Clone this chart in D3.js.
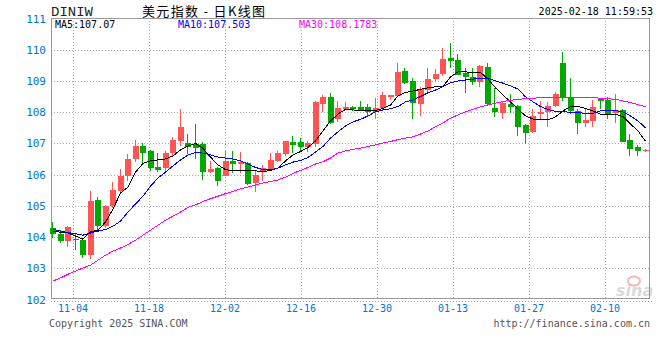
<!DOCTYPE html>
<html><head><meta charset="utf-8">
<script src="https://cdn.jsdelivr.net/npm/d3@7/dist/d3.min.js"></script>
<style>body{margin:0;background:#fff}svg{display:block}</style>
</head><body>
<svg id="c" width="660" height="360"></svg>
<script>
const dates = ["10-30","10-31","11-01","11-04","11-05","11-06","11-07","11-08","11-11","11-12","11-13","11-14","11-15","11-18","11-19","11-20","11-21","11-22","11-25","11-26","11-27","11-28","11-29","12-02","12-03","12-04","12-05","12-06","12-09","12-10","12-11","12-12","12-13","12-16","12-17","12-18","12-19","12-20","12-23","12-24","12-25","12-26","12-27","12-30","12-31","01-01","01-02","01-03","01-06","01-07","01-08","01-09","01-10","01-13","01-14","01-15","01-16","01-17","01-20","01-21","01-22","01-23","01-24","01-27","01-28","01-29","01-30","01-31","02-03","02-04","02-05","02-06","02-07","02-10","02-11","02-12","02-13","02-14","02-17","02-18"];
const open = [104.29,104.10,103.88,103.95,103.91,103.41,105.20,104.34,105.01,105.46,
105.95,106.49,106.91,106.75,106.24,106.21,106.68,107.07,107.01,106.97,
106.97,106.08,106.20,105.97,106.45,106.35,106.38,105.74,106.11,106.14,
106.43,106.67,107.04,107.05,106.89,106.99,108.25,108.49,107.79,108.10,
108.15,108.15,108.15,107.99,108.12,108.50,108.52,109.32,109.00,108.26,
108.70,109.05,109.22,109.73,109.68,109.25,109.14,108.97,109.45,108.12,
107.96,108.25,108.20,107.58,107.36,107.95,107.99,108.20,109.57,108.49,
108.04,107.64,107.72,108.42,108.39,107.96,108.06,107.10,106.88,106.76];
const high = [104.47,104.21,104.37,104.13,103.95,105.46,105.27,105.04,105.76,106.19,
106.65,107.11,107.02,106.78,106.68,106.75,107.19,108.09,107.29,107.61,
107.05,106.43,106.25,106.75,106.75,106.72,106.40,106.10,106.32,106.70,
106.75,107.09,107.23,107.17,107.08,108.37,108.55,108.60,108.36,108.33,
108.20,108.36,108.25,108.44,108.65,108.56,109.57,109.40,109.10,108.80,
109.43,109.38,110.05,110.23,109.86,109.43,109.43,109.52,109.56,108.78,
108.31,108.57,108.22,107.62,108.09,108.36,108.31,108.63,109.92,109.08,
108.10,108.12,108.38,108.44,108.50,108.58,108.10,107.30,106.94,106.83];
const low = [103.97,103.81,103.67,103.57,103.34,103.30,104.15,104.30,104.94,105.44,
105.79,106.40,106.35,106.11,106.08,106.08,106.60,106.91,106.65,106.49,
105.84,106.05,105.63,105.95,106.06,106.05,105.68,105.43,105.79,106.10,
106.40,106.60,106.70,106.72,106.72,106.90,107.99,107.62,107.67,108.06,
108.04,108.04,107.88,107.77,108.08,108.40,108.48,108.90,107.77,107.88,
108.60,109.00,109.15,109.43,109.18,108.61,108.88,108.82,108.20,107.86,
107.77,107.97,107.23,106.98,107.33,107.75,107.52,108.15,108.36,107.93,
107.29,107.54,107.52,108.10,107.77,107.64,107.05,106.59,106.59,106.72];
const close = [104.10,103.88,104.33,103.89,103.41,105.17,104.34,104.98,105.52,105.97,
106.51,106.91,106.68,106.20,106.14,106.68,107.11,107.54,106.89,106.86,
106.08,106.19,105.79,106.43,106.35,106.41,105.71,106.00,106.22,106.46,
106.70,107.07,106.95,106.88,107.02,108.33,108.49,107.64,108.12,108.17,
108.09,108.07,108.01,108.12,108.54,108.54,109.29,108.93,108.30,108.75,
109.06,109.23,109.70,109.63,109.20,109.13,108.97,109.49,108.25,108.00,
108.29,108.15,107.52,107.34,107.88,108.00,108.20,108.57,108.44,108.04,
107.64,107.74,108.15,108.36,107.93,108.06,107.05,106.83,106.75,106.78];
const ma5 = [104.17,104.16,104.13,104.03,103.93,104.17,104.22,104.48,104.90,105.41,
105.60,106.08,106.36,106.44,106.47,106.50,106.60,106.79,106.92,107.00,
106.84,106.56,106.31,106.16,106.12,106.12,106.12,106.12,106.10,106.13,
106.21,106.44,106.63,106.74,106.87,107.08,107.40,107.72,107.94,108.09,
108.07,108.06,108.05,108.06,108.12,108.23,108.52,108.63,108.68,108.73,
108.78,108.81,108.82,109.13,109.29,109.29,109.27,109.27,109.06,108.78,
108.55,108.33,108.10,107.88,107.78,107.75,107.75,107.85,108.04,108.18,
108.18,108.12,108.04,107.94,107.94,107.94,107.86,107.62,107.40,107.07];
const ma10 = [104.25,104.19,104.14,104.11,104.06,104.13,104.19,104.24,104.35,104.51,
104.80,105.06,105.31,105.63,105.89,106.08,106.28,106.47,106.63,106.71,
106.69,106.63,106.56,106.53,106.50,106.44,106.34,106.23,106.16,106.15,
106.21,106.31,106.40,106.45,106.55,106.72,106.90,107.17,107.37,107.56,
107.69,107.77,107.88,108.01,108.07,108.11,108.18,108.33,108.39,108.50,
108.62,108.71,108.82,108.94,109.00,109.03,109.06,109.08,109.08,109.00,
108.93,108.84,108.74,108.49,108.33,108.18,108.09,108.02,108.01,108.00,
107.99,107.96,107.96,108.04,108.05,108.05,108.01,107.88,107.72,107.50];
const ma30 = [102.59,102.69,102.81,102.91,103.01,103.10,103.26,103.42,103.55,103.65,
103.76,103.90,104.06,104.22,104.38,104.54,104.67,104.80,104.95,105.03,
105.14,105.23,105.31,105.39,105.46,105.54,105.60,105.67,105.73,105.78,
105.83,105.92,106.04,106.13,106.23,106.34,106.41,106.53,106.69,106.76,
106.81,106.85,106.90,106.95,107.01,107.06,107.12,107.17,107.21,107.30,
107.40,107.53,107.65,107.81,107.91,108.01,108.09,108.17,108.23,108.29,
108.34,108.38,108.41,108.43,108.45,108.46,108.46,108.47,108.48,108.48,
108.48,108.47,108.46,108.45,108.43,108.41,108.36,108.31,108.24,108.18];
const yTicks = [102,103,104,105,106,107,108,109,110,111];
const xTickLabels = ["11-04","11-18","12-02","12-16","12-30","01-13","01-27","02-10"];
const maLabels = ["MA5:107.07","MA10:107.503","MA30:108.1783"];
const maColors = ["#000000","#0000ff","#ff00ff"];
const symbol = "DINIW";
const title = "美元指数 - 日K线图";
const stamp = "2025-02-18 11:59:53";
const footLeft = "Copyright 2025 SINA.COM";
const footRight = "http://finance.sina.com.cn";

const svg = d3.select("#c");
const L = 51, R = 649, T = 18, B = 298;
const x = d3.scaleLinear().domain([0, dates.length - 1]).range([53, 645.5]);
const xt = d3.scalePoint().domain(xTickLabels).range([72.5, 604.5]);
const y = d3.scaleLinear().domain([102, 111]).range([299.5, 18.5]);
const UP = "#ff5454", DOWN = "#00a800";
const mono = "'DejaVu Sans Mono', 'Liberation Mono', monospace";

// grid
const grid = svg.append("g").attr("stroke", "#a8a8a8").attr("stroke-dasharray", "1,2").attr("shape-rendering", "crispEdges");
grid.selectAll("line.h").data(yTicks.filter(d => d > 102 && d < 111)).join("line")
  .attr("x1", L).attr("x2", R).attr("y1", d => Math.round(y(d)) + 0.5).attr("y2", d => Math.round(y(d)) + 0.5);
grid.selectAll("line.v").data(xTickLabels).join("line")
  .attr("y1", T).attr("y2", B).attr("x1", d => Math.round(xt(d)) + 0.5).attr("x2", d => Math.round(xt(d)) + 0.5);
grid.append("line").attr("x1", L).attr("x2", 652).attr("y1", Math.round(y(102)) + 1.5).attr("y2", Math.round(y(102)) + 1.5);

// watermark
const wm = svg.append("g").attr("opacity", 0.55);
wm.append("text").attr("x", 616).attr("y", 296).attr("font-family", "'DejaVu Sans', sans-serif")
  .attr("font-style", "italic").attr("font-weight", "bold").attr("font-size", 16).attr("fill", "#bbbbbb").text("sina");
wm.append("ellipse").attr("cx", 634).attr("cy", 281).attr("rx", 6).attr("ry", 4.5).attr("fill", "none").attr("stroke", "#e88080").attr("stroke-width", 2);

// frame
svg.append("rect").attr("x", L + 0.5).attr("y", T + 0.5).attr("width", R - L).attr("height", B - T)
  .attr("fill", "none").attr("stroke", "#999").attr("shape-rendering", "crispEdges");

// candles
const cg = svg.append("g").attr("shape-rendering", "crispEdges");
const idx = d3.range(dates.length);
cg.selectAll("rect.w").data(idx).join("rect")
  .attr("x", i => Math.round(x(i) - 3) + 2).attr("width", 1)
  .attr("y", i => y(high[i])).attr("height", i => Math.max(1, y(low[i]) - y(high[i])))
  .attr("fill", i => close[i] >= open[i] ? UP : DOWN);
cg.selectAll("rect.b").data(idx).join("rect")
  .attr("x", i => Math.round(x(i) - 3)).attr("width", 6)
  .attr("y", i => y(Math.max(open[i], close[i])))
  .attr("height", i => Math.max(1, Math.abs(y(open[i]) - y(close[i]))))
  .attr("fill", i => close[i] >= open[i] ? UP : DOWN);

// MA lines
[ma5, ma10, ma30].forEach((s, k) => {
  svg.append("path").datum(idx)
    .attr("d", d3.line().x(i => x(i)).y(i => y(s[i])))
    .attr("fill", "none").attr("stroke", maColors[k]).attr("stroke-width", 1)
    .attr("shape-rendering", "crispEdges");
});

// axes
const ya = svg.append("g").attr("transform", `translate(${L},0)`)
  .call(d3.axisLeft(y).tickValues(yTicks).tickSize(0).tickPadding(5).tickFormat(d3.format("d")));
ya.select(".domain").remove();
ya.selectAll("text").attr("font-family", mono).attr("font-size", 11).attr("fill", "#0077cc");

const xa = svg.append("g").attr("transform", `translate(0,312)`)
  .call(d3.axisBottom(xt).tickSize(0).tickPadding(0));
xa.select(".domain").remove();
xa.selectAll("text").attr("y", 0).attr("dy", 0).attr("font-family", mono).attr("font-size", 10).attr("fill", "#0077cc");

// header texts
svg.append("text").attr("x", 51).attr("y", 15.5).attr("font-family", "'Liberation Mono', monospace")
  .attr("font-size", 12).attr("fill", "#222").attr("textLength", 42).attr("lengthAdjust", "spacingAndGlyphs").text(symbol);
svg.append("text").attr("x", 142).attr("y", 15.5).attr("font-family", "'Noto Sans CJK SC', sans-serif")
  .attr("font-size", 13).attr("fill", "#000").attr("textLength", 123).attr("lengthAdjust", "spacing").text(title);
svg.append("text").attr("x", 653).attr("y", 14.5).attr("text-anchor", "end").attr("font-family", mono)
  .attr("font-size", 10).attr("fill", "#000").text(stamp);
const maX = [55, 178, 299];
maLabels.forEach((t, k) => {
  svg.append("text").attr("x", maX[k]).attr("y", 28).attr("font-family", mono).attr("font-size", 10)
    .attr("fill", maColors[k]).text(t);
});
svg.append("text").attr("x", 49).attr("y", 327).attr("font-family", mono).attr("font-size", 10).attr("fill", "#555").text(footLeft);
svg.append("text").attr("x", 650).attr("y", 327).attr("text-anchor", "end").attr("font-family", mono).attr("font-size", 10).attr("fill", "#555").text(footRight);
</script>
</body></html>
